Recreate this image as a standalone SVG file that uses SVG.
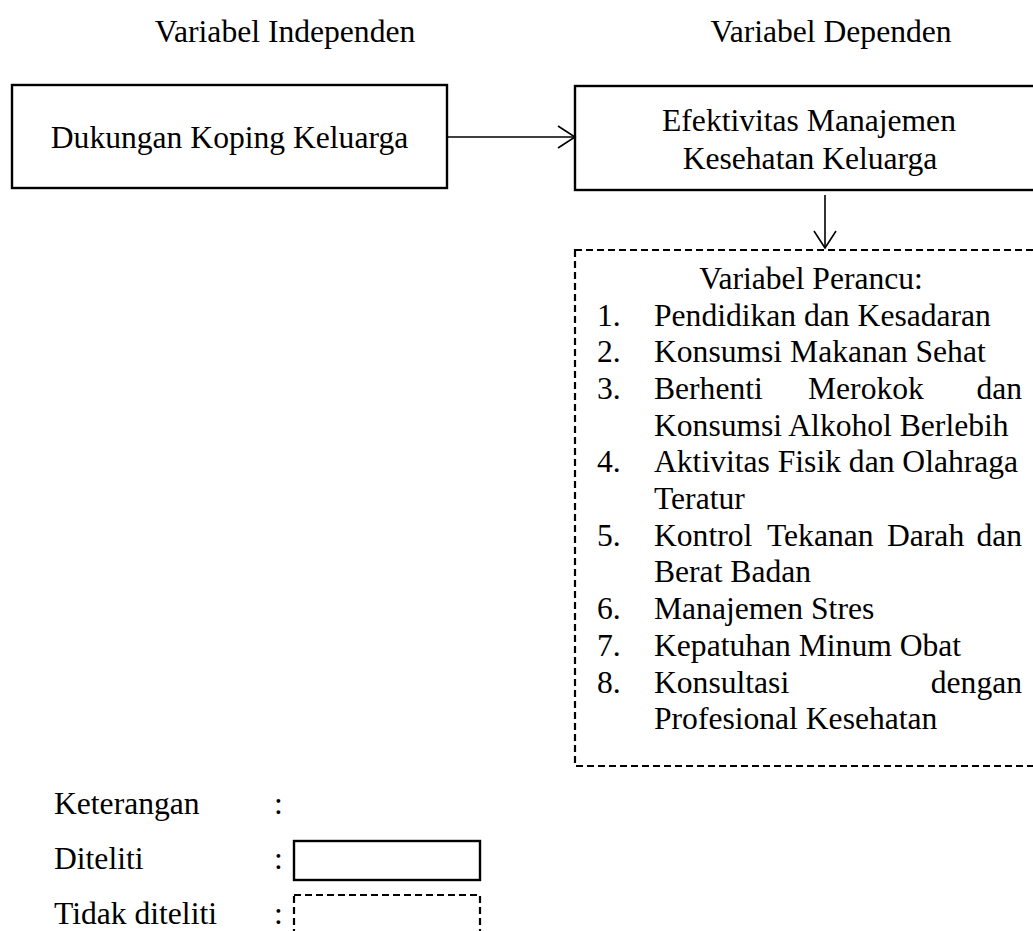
<svg xmlns="http://www.w3.org/2000/svg" width="1033" height="931" viewBox="0 0 1033 931">
<style>
text{font-family:"Liberation Serif","Times New Roman",serif;font-size:31.6px;fill:#000}
.m{text-anchor:middle}
.e{text-anchor:end}
.box{fill:#fff;stroke:#000;stroke-width:2.4}
.dash{fill:none;stroke:#000;stroke-width:2.2;stroke-dasharray:7 4}
.conn{fill:none;stroke:#000;stroke-width:1.6}
</style>
<defs>
<marker id="arr" markerUnits="userSpaceOnUse" markerWidth="22" markerHeight="26" refX="18" refY="12" orient="auto">
<path d="M1,1 L18,12 L1,23" fill="none" stroke="#000" stroke-width="1.6"/>
</marker>
</defs>
<rect width="1033" height="931" fill="#fff"/>
<g id="headings">
<text class="m" x="285" y="42">Variabel Independen</text>
<text class="m" x="831" y="42">Variabel Dependen</text>
</g>
<g id="node-independen">
<rect class="box" x="12" y="85" width="435" height="103"/>
<text class="m" x="229.5" y="148">Dukungan Koping Keluarga</text>
</g>
<g id="node-dependen">
<rect class="box" x="575" y="86" width="472" height="104"/>
<text class="m" x="809" y="131">Efektivitas Manajemen</text>
<text class="m" x="810" y="168.5">Kesehatan Keluarga</text>
</g>
<g id="node-perancu">
<rect class="dash" x="575" y="250" width="472" height="516"/>
<text class="m" x="811" y="289">Variabel Perancu:</text>
<text x="597" y="325.5">1.</text><text x="654" y="325.5">Pendidikan dan Kesadaran</text>
<text x="597" y="362.2">2.</text><text x="654" y="362.2">Konsumsi Makanan Sehat</text>
<text x="597" y="398.9">3.</text><text x="654" y="398.9">Berhenti</text><text x="808" y="398.9">Merokok</text><text class="e" x="1022" y="398.9">dan</text>
<text x="654" y="435.6">Konsumsi Alkohol Berlebih</text>
<text x="597" y="472.3">4.</text><text x="654" y="472.3">Aktivitas Fisik dan Olahraga</text>
<text x="654" y="509">Teratur</text>
<text x="597" y="545.7">5.</text><text x="654" y="545.7">Kontrol</text><text x="767" y="545.7">Tekanan</text><text x="887" y="545.7">Darah</text><text class="e" x="1022" y="545.7">dan</text>
<text x="654" y="582.4">Berat Badan</text>
<text x="597" y="619.1">6.</text><text x="654" y="619.1">Manajemen Stres</text>
<text x="597" y="655.8">7.</text><text x="654" y="655.8">Kepatuhan Minum Obat</text>
<text x="597" y="692.5">8.</text><text x="654" y="692.5">Konsultasi</text><text class="e" x="1022" y="692.5">dengan</text>
<text x="654" y="729.2">Profesional Kesehatan</text>
</g>
<g id="connectors">
<line class="conn" x1="447" y1="137" x2="575" y2="137" marker-end="url(#arr)"/>
<line class="conn" x1="825" y1="195" x2="825" y2="248" marker-end="url(#arr)"/>
</g>
<g id="legend">
<text x="54" y="814">Keterangan</text>
<text x="274" y="814">:</text>
<text x="54" y="869">Diteliti</text>
<text x="274" y="869">:</text>
<rect class="box" x="294" y="841" width="186" height="39"/>
<text x="54" y="924">Tidak diteliti</text>
<text x="274" y="924">:</text>
<rect class="dash" x="294" y="895" width="186" height="60"/>
</g>
</svg>
